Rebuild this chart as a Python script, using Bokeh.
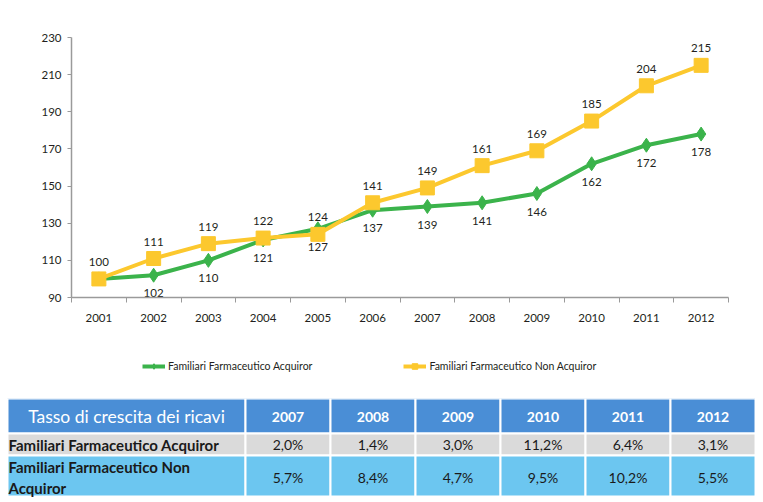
from bokeh.plotting import figure
from bokeh.models import Range1d, FixedTicker, ColumnDataSource, Legend, LegendItem
from bokeh.layouts import column
from bokeh.embed import file_html
from bokeh.resources import INLINE
from bokeh.core.properties import value

# ---------------- data ----------------
years = ["2001", "2002", "2003", "2004", "2005", "2006",
         "2007", "2008", "2009", "2010", "2011", "2012"]
acquiror = [100, 102, 110, 121, 127, 137, 139, 141, 146, 162, 172, 178]
non_acquiror = [100, 111, 119, 122, 124, 141, 149, 161, 169, 185, 204, 215]
series_names = ["Familiari Farmaceutico Acquiror",
                "Familiari Farmaceutico Non Acquiror"]
y_ticks = [90, 110, 130, 150, 170, 190, 210, 230]

table_title = "Tasso di crescita dei ricavi"
table_years = ["2007", "2008", "2009", "2010", "2011", "2012"]
growth_acquiror = [2.0, 1.4, 3.0, 11.2, 6.4, 3.1]
growth_non_acquiror = [5.7, 8.4, 4.7, 9.5, 10.2, 5.5]
table_row_labels = ["Familiari Farmaceutico Acquiror",
                    "Familiari Farmaceutico Non\nAcquiror"]

# ---------------- style ----------------
GREEN = "#3BB34B"
YELLOW = "#FCC82E"
TXT = "#231F20"
AXIS = "#9A9A9A"
FONT = "Lato"
W = 755


def blank(fig):
    fig.frame_align = False
    fig.outline_line_color = None
    fig.xgrid.visible = False
    fig.ygrid.visible = False
    fig.background_fill_color = "white"
    fig.border_fill_color = "white"


# ---------------- line chart ----------------
p = figure(width=W, height=340, x_range=Range1d(0.5, len(years) + 0.5),
           y_range=Range1d(y_ticks[0], y_ticks[-1]),
           output_backend="svg", toolbar_location=None,
           min_border_left=71, min_border_right=27,
           min_border_top=37, min_border_bottom=43)
blank(p)

xs = list(range(1, len(years) + 1))
src = ColumnDataSource(dict(x=xs, a=acquiror, n=non_acquiror,
                            n_lbl=[str(v) for v in non_acquiror]))
src_a = ColumnDataSource(dict(x=xs[1:], a=acquiror[1:],
                              a_lbl=[str(v) for v in acquiror[1:]]))

p.line("x", "a", source=src, line_color=GREEN, line_width=4)
p.scatter("x", "a", source=src, marker="diamond", size=14,
          fill_color=GREEN, line_color=GREEN)
p.line("x", "n", source=src, line_color=YELLOW, line_width=4)
p.scatter("x", "n", source=src, marker="square", size=14,
          fill_color=YELLOW, line_color=YELLOW)

p.text("x", "n", text="n_lbl", source=src, y_offset=-17,
       text_align="center", text_baseline="middle",
       text_font=value(FONT), text_font_size="11.5px", text_color=TXT)
p.text("x", "a", text="a_lbl", source=src_a, y_offset=18,
       text_align="center", text_baseline="middle",
       text_font=value(FONT), text_font_size="11.5px", text_color=TXT)

xax = p.xaxis[0]
xax.ticker = FixedTicker(ticks=xs, minor_ticks=[i + 0.5 for i in range(0, len(years) + 1)])
xax.major_label_overrides = {i + 1: y for i, y in enumerate(years)}
xax.major_tick_line_color = None
xax.major_tick_out = 0
xax.major_tick_in = 0
xax.minor_tick_out = 5
xax.minor_tick_in = 0
xax.minor_tick_line_color = AXIS
xax.axis_line_color = AXIS
xax.axis_line_width = 1.5
xax.major_label_standoff = 11
xax.major_label_text_font = FONT
xax.major_label_text_font_size = "11.5px"
xax.major_label_text_color = TXT

yax = p.yaxis[0]
yax.ticker = FixedTicker(ticks=y_ticks)
yax.minor_tick_line_color = None
yax.major_tick_out = 4
yax.major_tick_in = 0
yax.major_tick_line_color = AXIS
yax.axis_line_color = AXIS
yax.axis_line_width = 1.5
yax.major_label_standoff = 6
yax.major_label_text_font = FONT
yax.major_label_text_font_size = "11.5px"
yax.major_label_text_color = TXT

# ---------------- legend strip ----------------
# the legend's glyph renderers reuse the series data; this strip's ranges
# keep the series themselves out of view, only the legend keys are visible
LH = 58
lg = figure(width=W, height=LH, x_range=Range1d(-2, -1), y_range=Range1d(-2, -1),
            output_backend="svg", toolbar_location=None, min_border=0,
            x_axis_type=None, y_axis_type=None)
blank(lg)
k_gl = lg.line("x", "a", source=src, line_color=GREEN, line_width=4)
k_gm = lg.scatter("x", "a", source=src, marker="diamond", size=12,
                  fill_color=GREEN, line_color=GREEN)
k_yl = lg.line("x", "n", source=src, line_color=YELLOW, line_width=4)
k_ym = lg.scatter("x", "n", source=src, marker="square", size=11,
                  fill_color=YELLOW, line_color=YELLOW)
legend = Legend(items=[LegendItem(label=series_names[0], renderers=[k_gl, k_gm]),
                       LegendItem(label=series_names[1], renderers=[k_yl, k_ym])],
                orientation="horizontal", location=(142, 22),
                spacing=91, glyph_width=23, glyph_height=14,
                label_standoff=3, padding=0, margin=0,
                label_height=20,
                border_line_color=None, background_fill_alpha=0,
                label_text_font=FONT, label_text_font_size="10.5px",
                label_text_color=TXT)
lg.add_layout(legend)

# ---------------- table ----------------
TH = 99
t = figure(width=W, height=TH, x_range=Range1d(0, W), y_range=Range1d(TH, 0),
           output_backend="svg", toolbar_location=None, min_border=0,
           x_axis_type=None, y_axis_type=None)
blank(t)

x0, first_w, col_w = 7, 238, 85
lefts = [x0] + [x0 + first_w + col_w * i for i in range(len(table_years))]
rights = lefts[1:] + [x0 + first_w + col_w * len(table_years)]
centers = [(l + r) / 2 for l, r in zip(lefts, rights)]
rows = [(0, 35, "#4A8ED6"), (35, 57, "#DADADA"), (57, 98, "#6CC6F0")]

qs = dict(left=[], right=[], top=[], bottom=[], color=[])
for top, bot, col in rows:
    for l, r in zip(lefts, rights):
        qs["left"].append(l); qs["right"].append(r)
        qs["top"].append(top); qs["bottom"].append(bot)
        qs["color"].append(col)
t.quad(left="left", right="right", top="top", bottom="bottom", fill_color="color",
       line_color="white", line_width=2, source=ColumnDataSource(qs))


def fmt(v):
    return f"{v:.1f}%".replace(".", ",")


# header
t.text(x=[centers[0]], y=[18], text=[table_title], text_align="center",
       text_baseline="middle", text_font=value(FONT), text_font_size="17.5px",
       text_color="white")
t.text(x=centers[1:], y=[18] * len(table_years), text=table_years,
       text_align="center", text_baseline="middle", text_font=value(FONT),
       text_font_size="14px", text_font_style="bold", text_color="white")
# row 1
t.text(x=[lefts[0] + 1], y=[46], text=[table_row_labels[0]], text_align="left",
       text_baseline="middle", text_font=value(FONT), text_font_size="15px",
       text_font_style="bold", text_color="#1A1A1A")
t.text(x=centers[1:], y=[46] * len(growth_acquiror),
       text=[fmt(v) for v in growth_acquiror], text_align="center",
       text_baseline="middle", text_font=value(FONT), text_font_size="14px",
       text_color="#1A1A1A")
# row 2
t.text(x=[lefts[0] + 1], y=[79], text=[table_row_labels[1]], text_align="left",
       text_baseline="middle", text_font=value(FONT), text_font_size="15px",
       text_font_style="bold", text_color="#1A1A1A", text_line_height=1.15)
t.text(x=centers[1:], y=[79] * len(growth_non_acquiror),
       text=[fmt(v) for v in growth_non_acquiror], text_align="center",
       text_baseline="middle", text_font=value(FONT), text_font_size="14px",
       text_color="#1A1A1A")

layout = column(p, lg, t, spacing=0)
open("out.html", "w").write(file_html(layout, INLINE))
